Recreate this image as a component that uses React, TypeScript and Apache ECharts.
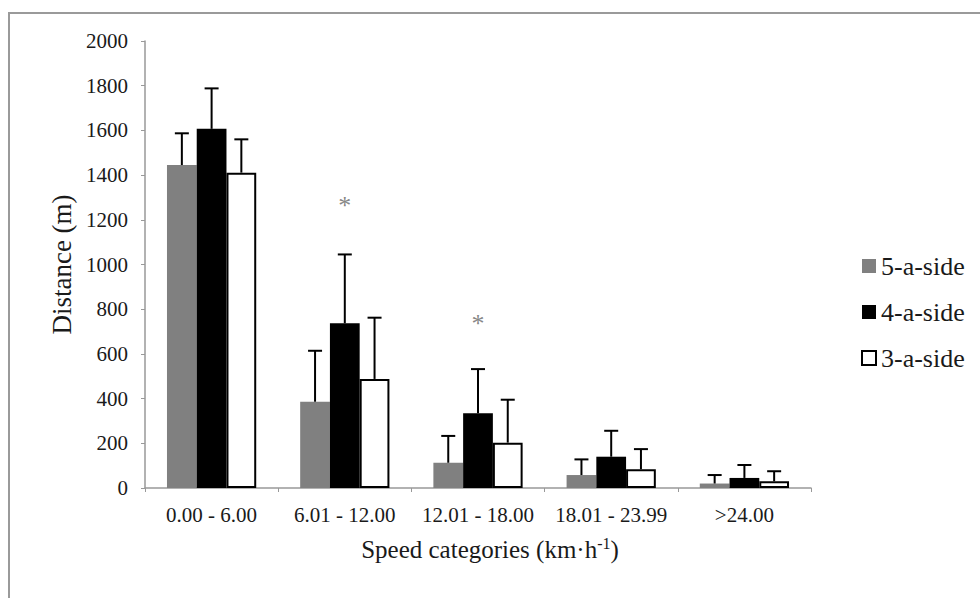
import React, { useEffect, useRef } from "react";
import * as echarts from "echarts";

const categories = ["0.00 - 6.00", "6.01 - 12.00", "12.01 - 18.00", "18.01 - 23.99", ">24.00"];
const seriesNames = ["5-a-side", "4-a-side", "3-a-side"];
const fiveASide = [1445, 386, 113, 58, 20];
const fourASide = [1607, 737, 334, 140, 45];
const threeASide = [1411, 488, 203, 84, 30];
const fiveASideSD = [142, 228, 120, 70, 38];
const fourASideSD = [181, 308, 198, 116, 58];
const threeASideSD = [149, 274, 192, 90, 45];
const asteriskPoints = [[1, 1266], [2, 738]];

const FONT = "Liberation Serif";
const TEXT = "#1a1a1a";

export default function App() {
  const ref = useRef<HTMLDivElement>(null);
  useEffect(() => {
    if (!ref.current) return;
    const chart = echarts.init(ref.current, null, { renderer: "svg" });
    const values = [fiveASide, fourASide, threeASide];
    const sds = [fiveASideSD, fourASideSD, threeASideSD];
    const styles = [
      { color: "#808080" },
      { color: "#000000" },
      { color: "#ffffff", borderColor: "#000", borderWidth: 2 },
    ];
    const barSeries = seriesNames.map((name, i) => ({
      name,
      type: "bar",
      data: values[i],
      barGap: "0%",
      barCategoryGap: "33%",
      itemStyle: styles[i],
      z: 2,
    }));
    const errSeries = seriesNames.map((name, i) => ({
      name: name + " SD",
      type: "custom",
      z: 3,
      encode: { x: 0, y: 1 },
      data: values[i].map((v, k) => [k, v, sds[i][k]]),
      renderItem: (params: any, api: any) => {
        const x = api.value(0);
        const v = api.value(1);
        const e = api.value(2);
        const base = api.coord([x, v]);
        const top = api.coord([x, v + e]);
        const bw = (api.size([1, 0])[0] * 0.67) / 3;
        const cx = base[0] + (i - 1) * bw;
        const st = { stroke: "#000", lineWidth: 2 };
        return {
          type: "group",
          children: [
            { type: "line", shape: { x1: cx, y1: base[1], x2: cx, y2: top[1] }, style: st },
            { type: "line", shape: { x1: cx - 7, y1: top[1], x2: cx + 7, y2: top[1] }, style: st },
          ],
        };
      },
    }));
    chart.setOption({
      animation: false,
      backgroundColor: "#fff",
      textStyle: { fontFamily: FONT },
      grid: { left: 145, right: 169, top: 41, bottom: 110 },
      graphic: [
        {
          type: "rect",
          shape: { x: 9, y: 13, width: 1200, height: 800 },
          style: { fill: "none", stroke: "#9a9a9a", lineWidth: 2 },
          silent: true,
        },
      ],
      legend: {
        orient: "vertical",
        left: 856,
        top: 248,
        itemWidth: 14,
        itemHeight: 14,
        itemGap: 20,
        icon: "rect",
        textStyle: { fontFamily: FONT, fontSize: 26, color: TEXT },
        data: [
          { name: "5-a-side", itemStyle: { color: "#808080" } },
          { name: "4-a-side", itemStyle: { color: "#000" } },
          { name: "3-a-side", itemStyle: { color: "#fff", borderColor: "#000", borderWidth: 2 } },
        ],
      },
      xAxis: {
        type: "category",
        data: categories,
        name: "Speed categories (km·h{sup|-1})",
        nameLocation: "middle",
        nameGap: 47,
        nameTextStyle: {
          fontFamily: FONT,
          fontSize: 25,
          color: TEXT,
          padding: [0, 0, 0, 24],
          rich: {
            sup: { fontFamily: FONT, fontSize: 16, color: TEXT, verticalAlign: "top", padding: [0, 0, 12, 0] },
          },
        },
        axisLine: { lineStyle: { color: "#999", width: 1.5 } },
        axisTick: { show: true, length: 4, lineStyle: { color: "#999" } },
        axisLabel: { fontFamily: FONT, fontSize: 21, color: TEXT, margin: 16, interval: 0, hideOverlap: false },
      },
      yAxis: {
        type: "value",
        min: 0,
        max: 2000,
        interval: 200,
        name: "Distance (m)",
        nameLocation: "middle",
        nameGap: 68,
        nameTextStyle: { fontFamily: FONT, fontSize: 27, color: TEXT },
        splitLine: { show: false },
        axisLine: { show: true, lineStyle: { color: "#999", width: 1.5 } },
        axisTick: { show: true, length: 4, lineStyle: { color: "#999" } },
        axisLabel: { fontFamily: FONT, fontSize: 21, color: TEXT, margin: 17, formatter: (v: number) => String(v) },
      },
      series: [
        ...barSeries,
        ...errSeries,
        {
          name: "significance",
          type: "scatter",
          data: asteriskPoints,
          symbolSize: 0,
          z: 4,
          label: {
            show: true,
            position: "inside",
            formatter: "*",
            fontFamily: FONT,
            fontSize: 26,
            color: "#666",
          },
        },
      ],
    });
    return () => chart.dispose();
  }, []);
  return (
    <div
      ref={ref}
      style={{ position: "fixed", left: 0, top: 0, width: 980, height: 598 }}
    />
  );
}
